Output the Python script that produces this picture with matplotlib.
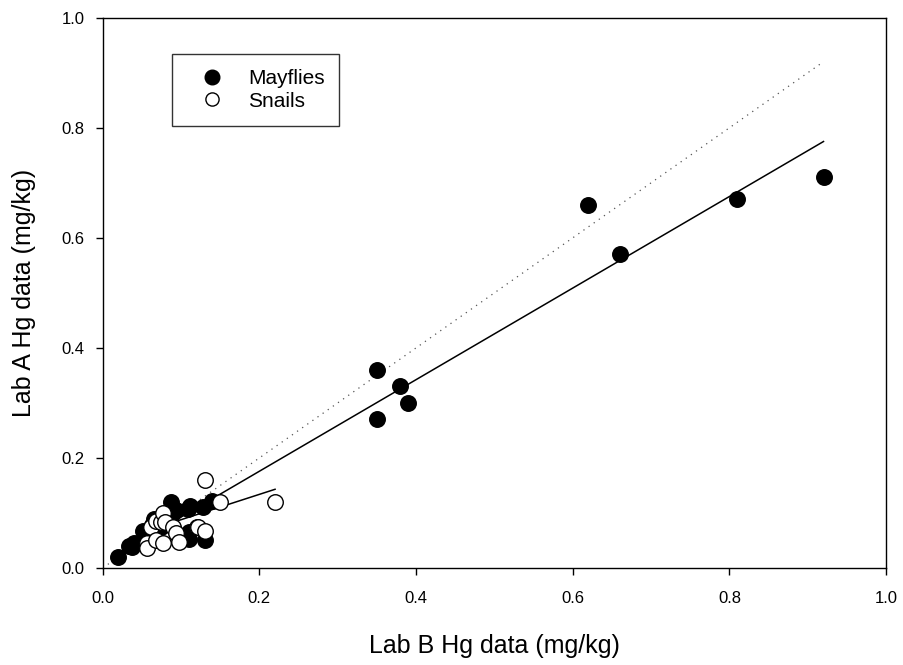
import matplotlib
matplotlib.use("Agg")
import matplotlib.pyplot as plt
from matplotlib.lines import Line2D

plt.rcParams['font.family'] = ['Liberation Sans', 'DejaVu Sans']

# Mayflies (Lab B, Lab A)
may_x = [0.02, 0.033, 0.037, 0.040, 0.052, 0.063, 0.066, 0.074, 0.087, 0.090, 0.094,
         0.109, 0.110, 0.110, 0.111, 0.128, 0.130, 0.139,
         0.35, 0.35, 0.38, 0.39, 0.62, 0.66, 0.81, 0.92]
may_y = [0.02, 0.040, 0.038, 0.045, 0.068, 0.078, 0.089, 0.075, 0.120, 0.099, 0.105,
         0.108, 0.066, 0.052, 0.112, 0.111, 0.051, 0.122,
         0.36, 0.27, 0.33, 0.30, 0.66, 0.57, 0.67, 0.71]

# Snails (Lab B, Lab A)
snail_x = [0.057, 0.057, 0.062, 0.068, 0.068, 0.074, 0.077, 0.077, 0.079, 0.090,
           0.093, 0.097, 0.120, 0.122, 0.131, 0.131, 0.150, 0.220]
snail_y = [0.045, 0.036, 0.074, 0.085, 0.051, 0.083, 0.100, 0.046, 0.083, 0.075,
           0.064, 0.048, 0.075, 0.074, 0.068, 0.160, 0.120, 0.120]

# regression lines (endpoints)
may_fit_x = [0.02, 0.92]
may_fit_y = [0.026, 0.775]
snail_fit_x = [0.055, 0.22]
snail_fit_y = [0.067, 0.143]
one_to_one = [0.0, 0.92]

fig = plt.figure(figsize=(9.04, 6.65), dpi=100)
ax = fig.add_axes([0.1136, 0.1459, 0.8667, 0.8275])

ax.plot(one_to_one, one_to_one, color='#555555', lw=0.9, linestyle=(0, (1, 4)), zorder=1)
ax.plot(may_fit_x, may_fit_y, color='black', lw=1.1, zorder=2)
ax.plot(snail_fit_x, snail_fit_y, color='black', lw=1.1, zorder=2)

ax.scatter(may_x, may_y, s=125, facecolor='black', edgecolor='black', lw=1.0, zorder=3)
ax.scatter(snail_x, snail_y, s=125, facecolor='white', edgecolor='black', lw=1.0, zorder=4)

ax.set_xlim(0, 1.0)
ax.set_ylim(0, 1.0)
ticks = [0.0, 0.2, 0.4, 0.6, 0.8, 1.0]
ax.set_xticks(ticks)
ax.set_yticks(ticks)
ax.set_xticklabels(['0.0', '0.2', '0.4', '0.6', '0.8', '1.0'])
ax.set_yticklabels(['0.0', '0.2', '0.4', '0.6', '0.8', '1.0'])
ax.tick_params(direction='out', length=5, width=1, labelsize=12)
ax.tick_params(axis='x', pad=11.5)
ax.tick_params(axis='y', pad=8)
for s in ax.spines.values():
    s.set_linewidth(1)

ax.set_xlabel('Lab B Hg data (mg/kg)', fontsize=18, labelpad=20.5)
ax.set_ylabel('Lab A Hg data (mg/kg)', fontsize=18, labelpad=18.5)

handles = [Line2D([], [], marker='o', ls='none', markersize=10.5, mfc='black', mec='black', label='Mayflies'),
           Line2D([], [], marker='o', ls='none', markersize=9.5, mfc='white', mec='black', label='Snails')]
leg = ax.legend(handles=handles, loc='upper left', bbox_to_anchor=(0.0885, 0.934),
                fontsize=15, frameon=True, fancybox=False, edgecolor='black',
                borderpad=0.71, labelspacing=0.19, handlelength=2.4, handletextpad=0.54,
                borderaxespad=0)
leg.get_frame().set_linewidth(1)

fig.savefig('out.png', dpi=100)
